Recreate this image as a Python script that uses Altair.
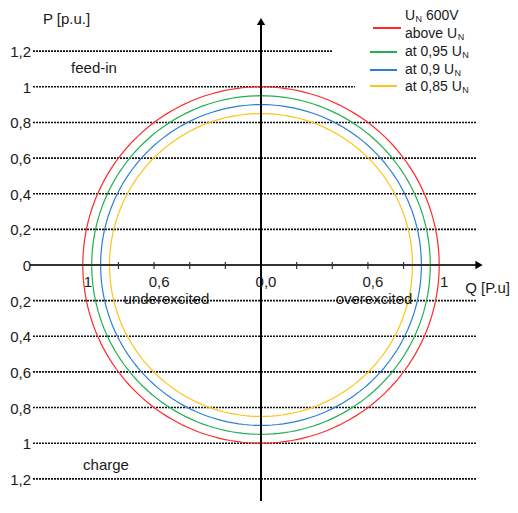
import altair as alt
import numpy as np
import pandas as pd

# ---------------- data ----------------
series_names = ["above U_N", "at 0,95 U_N", "at 0,9 U_N", "at 0,85 U_N"]
radii = [1.0, 0.95, 0.9, 0.85]
series_colors = ["#ff2a2a", "#1fb04f", "#2a7fd2", "#ffc31a"]
legend_labels = ["U_N 600V", "above U_N", "at 0,95 U_N", "at 0,9 U_N", "at 0,85 U_N"]

p_grid = [1.2, 1.0, 0.8, 0.6, 0.4, 0.2, -0.2, -0.4, -0.6, -0.8, -1.0, -1.2]
p_labels_at = [1.2, 1.0, 0.8, 0.6, 0.4, 0.2, 0.0, -0.2, -0.4, -0.6, -0.8, -1.0, -1.2]
q_minor_ticks = [-0.8, -0.6, -0.4, -0.2, 0.2, 0.4, 0.6, 0.8]
q_labels_at = [-1.0, -0.6, 0.0, 0.6, 1.0]
q_label_text = ["1", "0,6", "0,0", "0,6", "1"]

# ---------------- layout (page pixels -> data) ----------------
S = 178.2          # px per p.u.
CX, CY = 261, 265  # page position of origin
W, H = 502, 493


def qx(px):
    return (px - CX) / S


def py(pv):
    return (CY - pv) / S


qmin, qmax = qx(8), qx(8 + W)
pmax, pmin = py(8), py(8 + H)

xs = alt.Scale(domain=[qmin, qmax], nice=False, zero=False)
ys = alt.Scale(domain=[pmin, pmax], nice=False, zero=False)
FONT = "Liberation Sans"
TXT = "#1a1a1a"
FS = 15


def X(f="q"):
    return alt.X(f"{f}:Q", scale=xs, axis=None)


def Y(f="p"):
    return alt.Y(f"{f}:Q", scale=ys, axis=None)


# grid lines (dotted)
grid_end = {1.2: qx(333), 1.0: qx(355)}
grid_df = pd.DataFrame({
    "p": p_grid,
    "q": [qx(33)] * len(p_grid),
    "q2": [grid_end.get(v, qx(477)) for v in p_grid],
})
grid = alt.Chart(grid_df).mark_rule(strokeDash=[2, 1], strokeWidth=1.6, color="#111").encode(
    x=X(), x2="q2:Q", y=Y())

# circles
rows = []
ang = np.deg2rad(np.arange(0, 361, 2))
for name, r in zip(series_names, radii):
    for i, a in enumerate(ang):
        rows.append({"series": name, "i": i, "q": r * np.cos(a), "p": r * np.sin(a)})
circ_df = pd.DataFrame(rows)
circles = alt.Chart(circ_df).mark_line(strokeWidth=1.2).encode(
    x=X(), y=Y(), order=alt.Order("i:Q"),
    color=alt.Color("series:N", scale=alt.Scale(domain=series_names, range=series_colors), legend=None),
    detail="series:N")

# axes
xaxis = alt.Chart(pd.DataFrame({"q": [qx(30)], "q2": [qx(477)], "p": [0.0]})).mark_rule(
    strokeWidth=2.2, color="#333").encode(x=X(), x2="q2:Q", y=Y())
yaxis = alt.Chart(pd.DataFrame({"q": [0.0], "p": [pmin], "p2": [py(22)]})).mark_rule(
    strokeWidth=2, color="#000").encode(x=X(), y=Y(), y2="p2:Q")
arrow_r = alt.Chart(pd.DataFrame({"q": [qx(479)], "p": [0.0]})).mark_point(
    shape="triangle-right", filled=True, size=70, color="#000", opacity=1).encode(x=X(), y=Y())
arrow_u = alt.Chart(pd.DataFrame({"q": [0.0], "p": [py(21.5)]})).mark_point(
    shape="triangle-up", filled=True, size=70, color="#000", opacity=1).encode(x=X(), y=Y())
ticks = alt.Chart(pd.DataFrame({"q": q_minor_ticks, "p": [py(262)] * len(q_minor_ticks),
                                "p2": [py(269)] * len(q_minor_ticks)})).mark_rule(
    strokeWidth=1.2, color="#333").encode(x=X(), y=Y(), y2="p2:Q")


def fmt(v):
    return f"{abs(v):g}".replace(".", ",")


ylab = alt.Chart(pd.DataFrame({"q": [qx(31)] * len(p_labels_at), "p": p_labels_at,
                               "t": [fmt(v) for v in p_labels_at]})).mark_text(
    align="right", baseline="middle", fontSize=FS, font=FONT, color=TXT, dy=1).encode(
    x=X(), y=Y(), text="t:N")
xlab = alt.Chart(pd.DataFrame({"q": q_labels_at, "p": [py(282)] * len(q_labels_at),
                               "t": q_label_text})).mark_text(
    align="center", baseline="middle", fontSize=FS, font=FONT, color=TXT, dx=5).encode(
    x=X(), y=Y(), text="t:N")

ann_df = pd.DataFrame({
    "t": ["P [p.u.]", "feed-in", "charge", "underexcited", "overexcited"],
    "q": [qx(66.5), qx(94), qx(106), qx(166.5), qx(374)],
    "p": [py(18.5), py(68), py(465), py(298.5), py(298.5)],
})
ann = alt.Chart(ann_df).mark_text(align="center", baseline="middle", fontSize=FS, font=FONT,
                                  color=TXT).encode(x=X(), y=Y(), text="t:N")
qlab = alt.Chart(pd.DataFrame({"t": ["Q [P.u]"], "q": [qx(510)], "p": [py(287.5)]})).mark_text(
    align="right", baseline="middle", fontSize=FS, font=FONT, color=TXT).encode(
    x=X(), y=Y(), text="t:N")

# ---------------- legend (manual, with subscript N) ----------------
AW = {" ": 278, ",": 278, "U": 722, "N": 722, "V": 667, "a": 556, "b": 556, "o": 556,
      "v": 500, "e": 556, "t": 278}


def width(s, size):
    return sum(AW.get(c, 556) for c in s) * size / 1000.0


leg_x0 = 405
leg_base = [20, 38, 56, 74, 91]
main_rows, sub_rows = [], []
for lab, base in zip(legend_labels, leg_base):
    parts = lab.split("_N")
    off = 0.0
    for k, part in enumerate(parts):
        stripped = part.lstrip(" ")
        off += width(part[:len(part) - len(stripped)], 14)
        if stripped:
            main_rows.append({"t": stripped, "q": qx(leg_x0 + off), "p": py(base)})
            off += width(stripped, 14)
        if k < len(parts) - 1:
            sub_rows.append({"t": "N", "q": qx(leg_x0 + off + 0.5), "p": py(base + 2)})
            off += width("N", 9) + 0.5
leg_main = alt.Chart(pd.DataFrame(main_rows)).mark_text(
    align="left", baseline="alphabetic", fontSize=14, font=FONT, color=TXT).encode(
    x=X(), y=Y(), text="t:N")
leg_sub = alt.Chart(pd.DataFrame(sub_rows)).mark_text(
    align="left", baseline="alphabetic", fontSize=9, font=FONT, color=TXT).encode(
    x=X(), y=Y(), text="t:N")

sw_y = [28, 52, 70, 86]
sw_x = [(373, 401), (370, 397), (370, 397), (370, 397)]
sw_df = pd.DataFrame({"series": series_names,
                      "q": [qx(a) for a, b in sw_x], "q2": [qx(b) for a, b in sw_x],
                      "p": [py(v) for v in sw_y]})
swatches = alt.Chart(sw_df).mark_rule(strokeWidth=2).encode(
    x=X(), x2="q2:Q", y=Y(),
    color=alt.Color("series:N", scale=alt.Scale(domain=series_names, range=series_colors), legend=None))

chart = alt.layer(grid, circles, xaxis, ticks, yaxis, arrow_r, arrow_u, ylab, xlab, ann, qlab,
                  leg_main, leg_sub, swatches).properties(
    width=W, height=H, padding=0, autosize=alt.AutoSizeParams(type="none"),
    background="white").configure_view(stroke=None)

chart.save("out.html", embed_options={"renderer": "svg", "actions": False})
